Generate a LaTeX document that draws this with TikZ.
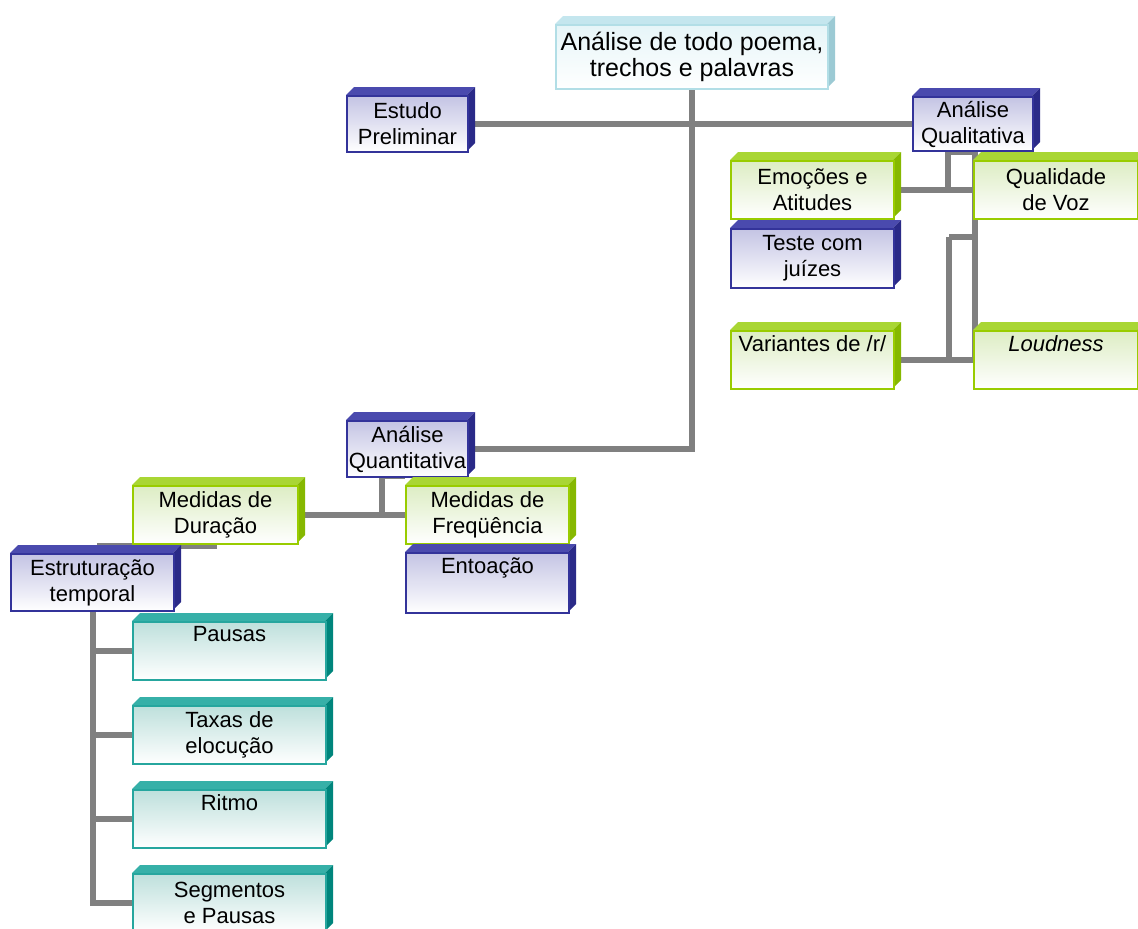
\documentclass[tikz,border=0pt]{standalone}
\usepackage{fontspec}
\setmainfont{Liberation Sans}
\usetikzlibrary{calc}
\pgfdeclarelayer{background}
\pgfsetlayers{background,main}
\definecolor{blueline}{HTML}{33339A}
\definecolor{bluetop}{HTML}{4A4AAE}
\definecolor{blueside}{HTML}{2A2A88}
\definecolor{bluefill}{HTML}{C4C4E4}
\definecolor{greenline}{HTML}{99CC00}
\definecolor{greentop}{HTML}{A9D634}
\definecolor{greenside}{HTML}{86B800}
\definecolor{greenfill}{HTML}{DDEDC4}
\definecolor{tealline}{HTML}{26A69E}
\definecolor{tealtop}{HTML}{36B0A8}
\definecolor{tealside}{HTML}{00857C}
\definecolor{tealfill}{HTML}{BEE0DC}
\definecolor{cyanline}{HTML}{B2DEE6}
\definecolor{cyantop}{HTML}{C4E6EE}
\definecolor{cyanside}{HTML}{9CCAD4}
\definecolor{cyanfill}{HTML}{E6F5F8}
\definecolor{connc}{HTML}{808080}
\tikzset{
  conn/.style={draw=connc, line width=5.5pt},
  cubeface/.style={line width=2pt, draw=#1line, top color=#1fill, bottom color=white,
    inner sep=0pt, align=center, anchor=north west, text=black,
    font=\fontsize{22}{26}\selectfont},
}
\newcommand\cubebox[7]{%
  \fill[#2top] (#3,#4) -- (#3+8,#4-8) -- (#5+8,#4-8) -- (#5,#4) -- cycle;
  \fill[#2side] (#5,#4) -- (#5+8,#4-8) -- (#5+8,#6-8) -- (#5,#6) -- cycle;
  \node[cubeface=#2, minimum width=#5pt-#3pt, minimum height=#6pt-#4pt] (#1) at (#3,#4) {#7};
}
\begin{document}
\begin{tikzpicture}[x=1pt,y=-1pt]
\clip (0,0) rectangle (1138,929);
\begin{pgfonlayer}{background}
\fill[white] (0,0) rectangle (1138,929);
\end{pgfonlayer}
% boxes
\cubebox{top}{cyan}{555}{24}{827}{88}{\fontsize{25}{28}\selectfont Análise de todo poema,\\\fontsize{25}{28}\selectfont trechos e palavras}
\cubebox{estudo}{blue}{346}{95}{467}{151}{Estudo\\Preliminar}
\cubebox{qual}{blue}{912}{96}{1032}{150}{Análise\\Qualitativa}
\cubebox{emo}{green}{730}{160}{893}{218}{Emoções e\\Atitudes}
\cubebox{qv}{green}{973}{160}{1137}{218}{Qualidade\\de Voz}
\cubebox{teste}{blue}{730}{228}{893}{287}{Teste com\\juízes}
\cubebox{var}{green}{730}{330}{893}{388}{Variantes de /r/\\\strut}
\cubebox{loud}{green}{973}{330}{1137}{388}{\textit{Loudness}\\\strut}
\cubebox{quant}{blue}{346}{420}{467}{476}{Análise\\Quantitativa}
\cubebox{dur}{green}{132}{485}{297}{543}{Medidas de\\Duração}
\cubebox{freq}{green}{405}{485}{568}{543}{Medidas de\\Freqüência}
\cubebox{ento}{blue}{405}{552}{568}{612}{Entoação\\\strut}
\cubebox{estr}{blue}{10}{553}{173}{610}{Estruturação\\temporal}
\cubebox{pausas}{teal}{132}{621}{325}{679}{Pausas\\\strut}
\cubebox{taxas}{teal}{132}{705}{325}{763}{Taxas de\\elocução}
\cubebox{ritmo}{teal}{132}{789}{325}{847}{Ritmo\\\strut}
\cubebox{seg}{teal}{132}{873}{325}{931}{Segmentos\\e Pausas}
% connectors
\coordinate (qa) at (948,150);
\coordinate (qb) at (948,190);
\coordinate (qc) at (975,152);
\coordinate (qd) at (975,358);
\coordinate (qe) at (949,237);
\coordinate (qf) at (949,358);
\coordinate (na) at (382,476);
\coordinate (nb) at (382,514);
\coordinate (nc) at (405,476);
\coordinate (da) at (97,546);
\coordinate (db) at (217,546);
\coordinate (ea) at (93,610);
\begin{pgfonlayer}{background}
\draw[conn] (top.south) -- (top.south |- quant.east) -- (quant.east);
\draw[conn] (estudo.east) -- (qual.west);
\draw[conn] (qa) -- (qb);
\draw[conn] (qa |- qc) -- (qc) -- (qd);
\draw[conn] (emo.east) -- (qv.west);
\draw[conn] (qe) -- (qe -| qc);
\draw[conn] (qe) -- (qf);
\draw[conn] (var.east) -- (loud.west);
\draw[conn] (emo.south) -- (teste.north);
\draw[conn] (na) -- (nb);
\draw[conn] (na) -- (nc);
\draw[conn] (dur.east) -- (freq.west);
\draw[conn] (freq.south) -- (ento.north);
\draw[conn] (da) -- (db);
\draw[conn] (ea) -- (ea |- seg.west) -- (seg.west);
\draw[conn] (ea |- pausas.west) -- (pausas.west);
\draw[conn] (ea |- taxas.west) -- (taxas.west);
\draw[conn] (ea |- ritmo.west) -- (ritmo.west);
\end{pgfonlayer}
\end{tikzpicture}
\end{document}
